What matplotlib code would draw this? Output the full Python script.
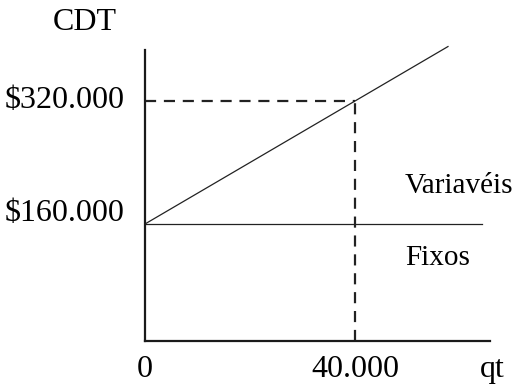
import matplotlib.pyplot as plt
from matplotlib.transforms import offset_copy

# cost-volume diagram: fixed cost plus variable cost
fixed_cost = 160000
unit_cost = 4.0
q_mark = 40000
q_end_total = 57700
q_end_fixed = 64200
x_ticks = [0, 40000]
x_tick_labels = ["0", "40.000"]
y_labels = {320000: "$320.000", 160000: "$160.000"}

plt.rcParams["font.family"] = ["Liberation Serif", "DejaVu Serif"]
plt.rcParams["mathtext.default"] = "regular"

fig = plt.figure(figsize=(5.12, 3.85), dpi=100)
ax = fig.add_axes([145 / 512, 44 / 385, 345 / 512, 291 / 385])
ax.set_xlim(0, 65700)
ax.set_ylim(7800, 386300)

for side in ("top", "right"):
    ax.spines[side].set_visible(False)
for side in ("left", "bottom"):
    ax.spines[side].set_linewidth(1.6)
    ax.spines[side].set_color("#1a1a1a")

total_at_mark = fixed_cost + unit_cost * q_mark
ax.plot([0, q_end_total], [fixed_cost, fixed_cost + unit_cost * q_end_total],
        color="#222222", lw=0.9, clip_on=False)
ax.plot([0, q_end_fixed], [fixed_cost, fixed_cost], color="#222222", lw=0.9)
ax.plot([0, q_mark], [total_at_mark, total_at_mark], color="#222222",
        lw=1.6, dashes=(5, 3.5))
ax.plot([q_mark, q_mark], [7800, total_at_mark], color="#222222",
        lw=1.6, dashes=(5, 3.5))

ax.set_xticks([])
ax.set_yticks([])

fs = 23
below = offset_copy(ax.transData, fig, y=-14, units="dots")
for xv, lab in zip(x_ticks, x_tick_labels):
    ax.text(xv, 7800, lab, ha="center", va="top", fontsize=fs, transform=below)
ax.text(66200, 7800, "qt", ha="center", va="top", fontsize=fs,
        transform=below, clip_on=False)

for yv, lab in y_labels.items():
    dy = 10 if yv == fixed_cost else 0
    ax.text(0, yv, lab.replace("$", r"\$"), ha="right", va="center", fontsize=fs,
            transform=offset_copy(ax.transData, fig, x=-20, y=dy, units="dots"))

ax.text(-11400, 1.045, "CDT", ha="center", va="bottom", fontsize=fs,
        transform=ax.get_xaxis_transform(), clip_on=False)
ax.text(49500, 210000, "Variavéis", ha="left", va="center", fontsize=fs - 2)
ax.text(49500, 116000, "Fixos", ha="left", va="center", fontsize=fs - 2)

fig.savefig("out.png", dpi=100)
